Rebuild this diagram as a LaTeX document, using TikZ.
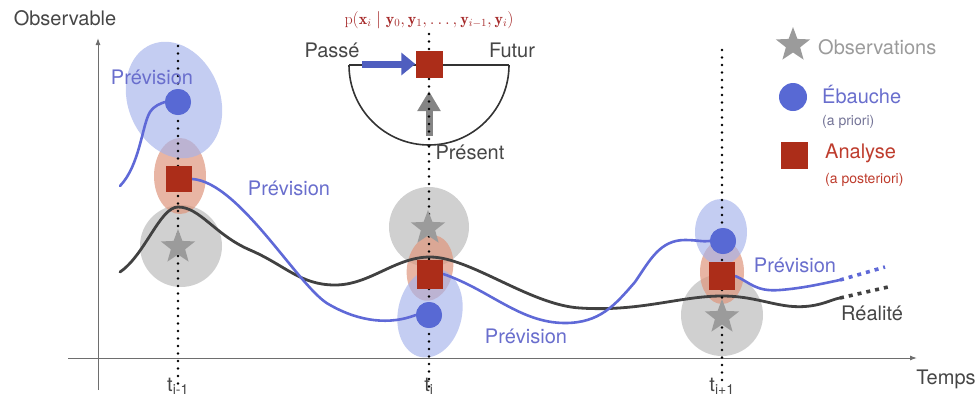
\documentclass[tikz,border=0pt]{standalone}
\usepackage{fontspec}
\newfontfamily\hv{TeX Gyre Heros}
\usetikzlibrary{shapes.geometric,arrows.meta}
\definecolor{blueline}{RGB}{95,105,215}
\definecolor{bluedot}{RGB}{88,105,212}
\definecolor{blueell}{RGB}{165,178,235}
\definecolor{redsq}{RGB}{172,45,25}
\definecolor{redell}{RGB}{222,150,125}
\definecolor{grayc}{RGB}{200,200,200}
\definecolor{starc}{RGB}{155,155,155}
\definecolor{realc}{RGB}{65,65,65}
\definecolor{axisc}{RGB}{110,110,110}
\definecolor{txtc}{RGB}{70,70,70}
\definecolor{prevc}{RGB}{105,110,205}
\definecolor{subc}{RGB}{115,115,150}
\definecolor{formc}{RGB}{165,40,40}
\definecolor{anac}{RGB}{190,60,45}
\tikzset{
  lbl/.style={font=\hv\fontsize{20}{24}\selectfont, inner sep=0pt},
  prev/.style={lbl, text=prevc},
  small/.style={font=\hv\fontsize{14}{16}\selectfont, inner sep=0pt},
  sq/.style={draw=none, fill=redsq, minimum size=26pt, inner sep=0pt},
  dot/.style={circle, draw=none, fill=bluedot, minimum size=26pt, inner sep=0pt},
  obs/.style={star, star points=5, star point ratio=2.4, fill=starc, draw=none, minimum size=36pt, inner sep=0pt},
  fore/.style={draw=blueline, line width=2.6pt, line cap=round},
  real/.style={draw=realc, line width=2.8pt, line cap=round},
  vdots/.style={draw=black, line width=2.8pt, dash pattern=on 0pt off 7.5pt, line cap=round},
  ext/.style={line width=3.6pt, dash pattern=on 4pt off 5pt},
  axis/.style={draw=axisc, line width=1pt, -{Latex[length=7pt,width=5pt]}},
}
\begin{document}
\begin{tikzpicture}[x=1pt,y=-1pt]
\useasboundingbox (0,0) rectangle (977,400);
% uncertainty clouds
\fill[grayc, opacity=0.85] (181,246) circle[radius=41];
\fill[grayc, opacity=0.85] (429,227) circle[radius=40];
\fill[grayc, opacity=0.85] (722,315) circle[radius=41];
\fill[redell, opacity=0.7] (180,176) circle[x radius=26, y radius=38];
\fill[redell, opacity=0.7, rotate around={-10:(430,268)}] (430,268) circle[x radius=23, y radius=33];
\fill[redell, opacity=0.7] (722,272) circle[x radius=22, y radius=32];
\fill[blueell, opacity=0.65, rotate around={22:(174,100)}] (174,100) circle[x radius=46, y radius=60];
\fill[blueell, opacity=0.65, rotate around={-12:(430,313)}] (430,313) circle[x radius=32, y radius=45];
\fill[blueell, opacity=0.65] (721,232) circle[x radius=26, y radius=33];
% axes
\coordinate (yb) at (98,390); \coordinate (yt) at (98,38);
\coordinate (xl) at (68,358); \coordinate (xr) at (917,358);
\draw[axis] (yb) -- (yt);
\draw[axis] (xl) -- (xr);
\node[lbl, text=txtc] (obsl) at (65,18) {Observable};
\node[lbl, text=txtc] (temps) at (946,379) {Temps};
% reality
\draw[real] (120,272) .. controls (145,255) and (160,207) .. (178,207)
  .. controls (200,207) and (215,235) .. (250,250)
  .. controls (285,265) and (300,285) .. (335,285)
  .. controls (370,285) and (395,257) .. (430,257)
  .. controls (470,257) and (530,305) .. (580,308)
  .. controls (640,312) and (680,296) .. (722,296)
  .. controls (760,296) and (780,310) .. (810,306)
  .. controls (825,304) and (833,299) .. (840,298) coordinate (rend);
\coordinate (rext) at (888,287);
\draw[realc, ext] (rend) -- (rext);
% inset (under dotted line)
\coordinate (hl) at (349,65); \coordinate (hr) at (509,65);
\draw[black!80, line width=1.6pt] (hl) -- (hr);
\draw[black!80, line width=1.6pt] (hl) arc[start angle=180, end angle=0, radius=80];
\coordinate (pr) at (429,136);
\coordinate (prt) at (429,91);
\draw[draw=starc!85!black, line width=7pt, -{Triangle[length=20pt,width=22pt]}] (pr) -- (prt);
% dotted time lines
\coordinate (d1t) at (178,46); \coordinate (d1b) at (178,386);
\coordinate (d2t) at (429,34); \coordinate (d2b) at (429,388);
\coordinate (d3t) at (722,50); \coordinate (d3b) at (722,386);
\draw[vdots] (d1t) -- (d1b);
\draw[vdots] (d2t) -- (d2b);
\draw[vdots] (d3t) -- (d3b);
% stars
\node[obs] (s1) at (178,247) {};
\node[obs] (s2) at (428,228) {};
\node[obs] (s3) at (722,317) {};
% forecasts
\node[dot] (b1) at (178,102) {};
\node[dot] (b2) at (429,315) {};
\node[dot] (b3) at (723,241) {};
\node[sq] (a1) at (179,179) {};
\node[sq, minimum height=29pt] (a2) at (430,274) {};
\node[sq, minimum height=28pt] (a3) at (722,276) {};
\coordinate (f0) at (120,186);
\draw[fore] (f0) .. controls (140,165) and (142,125) .. (150,112) .. controls (155,105) and (160,104) .. (b1.west);
\draw[fore] (a1.east) .. controls (240,182) and (300,290) .. (330,305) .. controls (360,322) and (390,325) .. (b2.west);
\draw[fore] (a2.east) .. controls (490,290) and (520,323) .. (565,323) .. controls (600,323) and (615,305) .. (635,282) .. controls (650,260) and (660,240) .. (685,240) .. controls (697,240) and (703,242) .. (b3.west);
\draw[fore] (a3.east) .. controls (750,282) and (755,292) .. (780,290) .. controls (805,288) and (825,283) .. (840,280) coordinate (pend);
\coordinate (pext) at (885,267);
\draw[blueline, ext] (pend) -- (pext);
% redraw markers over curves
\node[dot] at (b1) {};
\node[dot] at (b2) {};
\node[dot] at (b3) {};
\node[sq] at (a1) {};
\node[sq, minimum height=29pt] at (a2) {};
\node[sq, minimum height=28pt] at (a3) {};
% labels
\node[prev] (p1) at (152,77) {Prévision};
\node[prev] (p2) at (289,188) {Prévision};
\node[prev] (p3) at (526,336) {Prévision};
\node[prev] (p4) at (795,265) {Prévision};
\node[lbl, text=txtc] (real) at (872,313) {Réalité};
% inset square and arrows
\node[sq, minimum size=27pt] (ai) at (429,64) {};
\coordinate (pa) at (362,64);
\draw[draw=bluedot!90!black, line width=7pt, -{Triangle[length=14pt,width=22pt]}] (pa) -- (ai.west);
\node[lbl, text=txtc] (passe) at (332,50) {Passé};
\node[lbl, text=txtc] (futur) at (512,50) {Futur};
\node[lbl, text=txtc] (present) at (470,152) {Présent};
\node[text=formc, inner sep=0pt, font=\fontsize{16}{18}\selectfont] (form) at (429,20)
  {$\mathrm{p}(\mathbf{x}_i \mid \mathbf{y}_0, \mathbf{y}_1, \ldots, \mathbf{y}_{i-1}, \mathbf{y}_i)$};
\node[lbl, text=txtc, anchor=north] (t1) at (178,378) {t\textsubscript{i-1}};
\node[lbl, text=txtc, anchor=north] (t2) at (429,378) {t\textsubscript{i}};
\node[lbl, text=txtc, anchor=north] (t3) at (722,378) {t\textsubscript{i+1}};
% legend
\node[obs] (ls) at (793,45) {};
\node[lbl, text=starc, anchor=west] (lso) at (818,47) {Observations};
\node[dot, minimum size=28pt] (lb) at (793,97) {};
\node[lbl, text=prevc, anchor=west] (lbt) at (822,94) {Ébauche};
\node[small, text=subc, anchor=west] (lbs) at (822,122) {(a priori)};
\node[sq, minimum size=27pt] (la) at (794,155) {};
\node[lbl, text=anac, anchor=west] (lat) at (825,153) {Analyse};
\node[small, text=anac, anchor=west] (las) at (825,180) {(a posteriori)};
\end{tikzpicture}
\end{document}
